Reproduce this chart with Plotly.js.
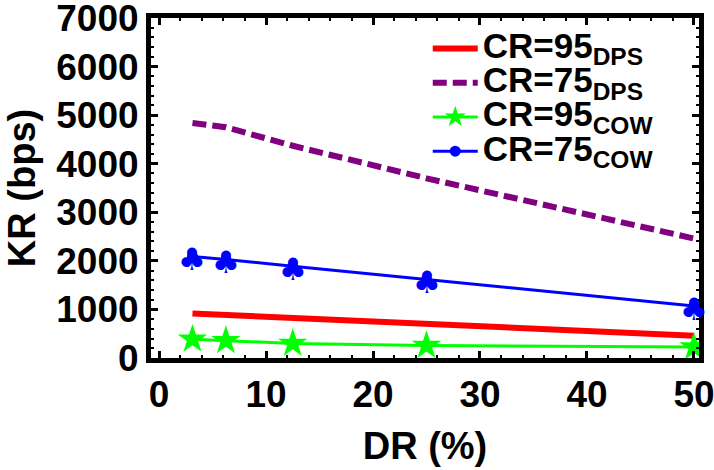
<!DOCTYPE html>
<html>
<head>
<meta charset="utf-8">
<script src="https://cdn.plot.ly/plotly-3.0.1.min.js"></script>
<style>html,body{margin:0;padding:0;background:#fff;}#chart{width:714px;height:470px;}</style>
</head>
<body>
<div id="chart"></div>
<script>
// Data
const dr = [3.125, 6.25, 12.5, 25, 50];
const cr95dps = [915, 885, 830, 710, 460];
const cr75dps = [4840, 4750, 4370, 3700, 2460];
const cr95cow = [385, 355, 300, 255, 225];
const cr75cow = [2090, 2030, 1890, 1620, 1070];
const seriesNames = ['CR=95<sub>DPS</sub>', 'CR=75<sub>DPS</sub>', 'CR=95<sub>COW</sub>', 'CR=75<sub>COW</sub>'];
const xTicks = [0, 10, 20, 30, 40, 50];
const yTicks = [0, 1000, 2000, 3000, 4000, 5000, 6000, 7000];

const FONT = 'Liberation Sans, Arial, sans-serif';
const big = s => '<span style="font-size:35px">' + s + '</span>';

const traces = [
  {x: dr, y: cr95dps, name: big(seriesNames[0]), mode: 'lines',
   line: {color: '#ff0000', width: 6}},
  {x: dr, y: cr75dps, name: big(seriesNames[1]), mode: 'lines',
   line: {color: '#800080', width: 6, dash: '14px,6px'}},
  {x: dr, y: cr95cow, name: big(seriesNames[2]), mode: 'lines+markers',
   line: {color: '#00ff00', width: 3},
   marker: {symbol: 'star', size: 22, color: '#00ff00', line: {width: 0}}},
  {x: dr, y: cr75cow, name: big(seriesNames[3]), mode: 'lines+markers',
   line: {color: '#0000ff', width: 3},
   marker: {symbol: 'circle', size: 11, color: '#0000ff', line: {width: 0}}}
];

// club glyphs placed at the blue series' data points
const clubs = dr.map((xv, i) => ({
  x: xv, y: cr75cow[i], xref: 'x', yref: 'y', text: '♣', showarrow: false,
  font: {family: 'DejaVu Sans', size: 31, color: '#0000ff'},
  xanchor: 'center', yanchor: 'middle', yshift: -3
}));

const axisCommon = {
  showgrid: false, zeroline: false, showline: true, linecolor: '#000', linewidth: 5,
  mirror: 'ticks', ticks: 'inside', ticklen: 7, tickwidth: 3, tickcolor: '#000',
  ticklabeloverflow: 'allow',
  tickfont: {family: FONT, size: 37, color: '#000', weight: 'bold'}
};
const titleFont = {family: FONT, size: 38, color: '#000', weight: 'bold'};

const layout = {
  width: 714, height: 470,
  margin: {l: 151, r: 15, t: 18, b: 112},
  paper_bgcolor: '#fff', plot_bgcolor: '#fff',
  showlegend: true,
  legend: {x: 0.505, y: 0.975, xanchor: 'left', yanchor: 'top', bgcolor: 'rgba(0,0,0,0)',
    itemwidth: 45,
    font: {family: FONT, size: 24, color: '#000', weight: 'bold'}, tracegroupgap: 0},
  annotations: clubs,
  xaxis: Object.assign({}, axisCommon, {
    range: [-0.75, 50.47], tickvals: xTicks, ticktext: xTicks.map(String),
    minor: {dtick: 2, tick0: 0, ticklen: 3, tickwidth: 2, tickcolor: '#000', ticks: 'inside'},
    title: {text: 'DR (%)', standoff: 19, font: titleFont}
  }),
  yaxis: Object.assign({}, axisCommon, {
    range: [0, 7000], tickvals: yTicks, ticktext: yTicks.map(String),
    minor: {dtick: 200, tick0: 0, ticklen: 3, tickwidth: 2, tickcolor: '#000', ticks: 'inside'},
    title: {text: 'KR (bps)', standoff: 10, font: titleFont}
  })
};

Plotly.newPlot('chart', traces, layout, {displayModeBar: false, staticPlot: true});
</script>
</body>
</html>
